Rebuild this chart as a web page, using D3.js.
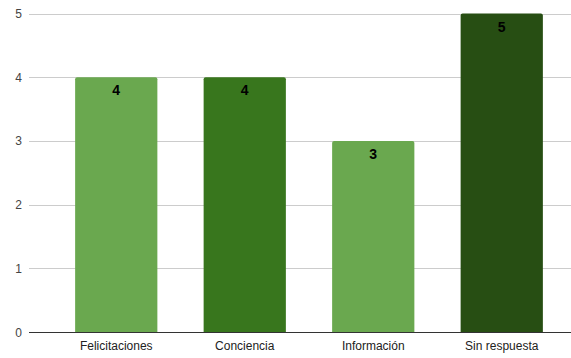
<!DOCTYPE html>
<html><head><meta charset="utf-8">
<script src="https://cdn.jsdelivr.net/npm/d3@7"></script>
<style>body{margin:0;background:#fff}svg{display:block}text{font-family:"Liberation Sans",Arial,sans-serif}</style>
</head><body><svg id="c" width="571" height="358"></svg>
<script>
const categories = ["Felicitaciones","Conciencia","Información","Sin respuesta"];
const values = [4,4,3,5];
const colors = ["#6aa84f","#38761d","#6aa84f","#274e13"];
const yTicks = [0,1,2,3,4,5];

const svg = d3.select("#c");
const W=571,H=358;
const gridLeft=29, gridRight=571;
const x = d3.scaleBand().domain(categories).range([52,566]).paddingInner(0.36).paddingOuter(0.18);
const y = d3.scaleLinear().domain([0,5]).range([332,13.5]);

svg.append("g").selectAll("line").data(yTicks.filter(d=>d>0)).join("line")
  .attr("x1",gridLeft).attr("x2",gridRight)
  .attr("y1",d=>Math.round(y(d))+0.5).attr("y2",d=>Math.round(y(d))+0.5)
  .attr("stroke","#cccccc").attr("stroke-width",1);

svg.append("g").selectAll("text").data(yTicks).join("text")
  .attr("x",22).attr("y",d=>y(d)+4.5).attr("text-anchor","end")
  .attr("font-size",12).attr("fill","#444").text(d=>d);

svg.append("g").selectAll("path").data(values).join("path")
  .attr("fill",(d,i)=>colors[i])
  .attr("d",(d,i)=>{
    const x0=x(categories[i]), w=x.bandwidth(), y0=y(d), y1=y(0), r=2;
    return `M${x0},${y1}V${y0+r}Q${x0},${y0} ${x0+r},${y0}H${x0+w-r}Q${x0+w},${y0} ${x0+w},${y0+r}V${y1}Z`;
  });

svg.append("line").attr("x1",gridLeft).attr("x2",gridRight)
  .attr("y1",Math.round(y(0))+0.5).attr("y2",Math.round(y(0))+0.5)
  .attr("stroke","#333").attr("stroke-width",1);

svg.append("g").selectAll("text").data(values).join("text")
  .attr("x",(d,i)=>x(categories[i])+x.bandwidth()/2).attr("y",d=>y(d)+18)
  .attr("text-anchor","middle").attr("font-size",14).attr("font-weight","bold")
  .attr("fill","#000").text(d=>d);

svg.append("g").selectAll("text").data(categories).join("text")
  .attr("x",d=>x(d)+x.bandwidth()/2).attr("y",350)
  .attr("text-anchor","middle").attr("font-size",12).attr("fill","#222").text(d=>d);
</script></body></html>
